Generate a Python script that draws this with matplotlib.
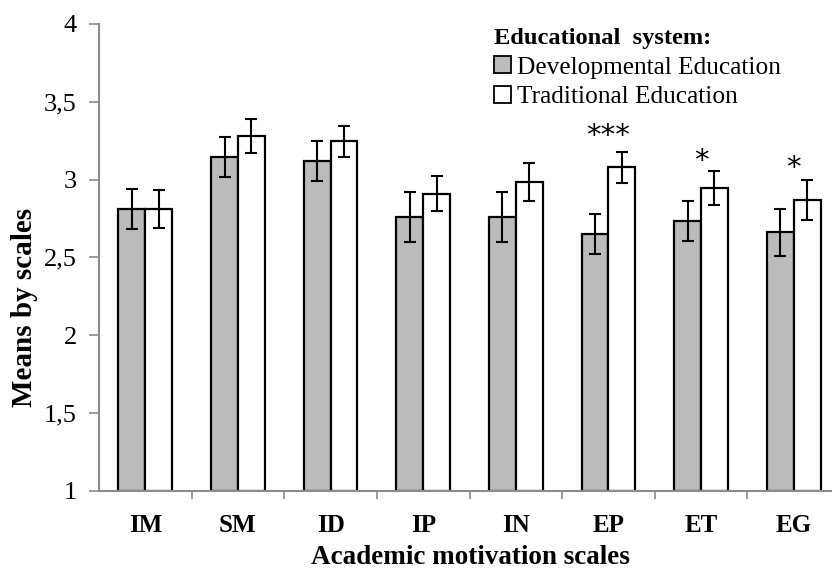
import numpy as np
import matplotlib
matplotlib.use("Agg")
import matplotlib.pyplot as plt
from matplotlib.patches import Patch
from matplotlib.ticker import FixedLocator, FuncFormatter

# Academic motivation scales and group means
scales = ["IM", "SM", "ID", "IP", "IN", "EP", "ET", "EG"]
dev_means = [2.81, 3.145, 3.12, 2.76, 2.76, 2.65, 2.735, 2.66]
dev_err = [0.13, 0.13, 0.13, 0.16, 0.16, 0.13, 0.13, 0.15]
trad_means = [2.81, 3.28, 3.245, 2.91, 2.985, 3.08, 2.945, 2.87]
trad_err = [0.12, 0.11, 0.10, 0.115, 0.12, 0.10, 0.11, 0.13]
signif = ["", "", "", "", "", "***", "*", "*"]
signif_y = [0, 0, 0, 0, 0, 3.28, 3.12, 3.075]

series_labels = ["Developmental Education", "Traditional Education"]
legend_title = "Educational  system:"
y_ticks = [1, 1.5, 2, 2.5, 3, 3.5, 4]

plt.rcParams["font.family"] = ["Liberation Serif", "DejaVu Serif"]

fig = plt.figure(figsize=(8.32, 5.72), dpi=100)
ax = fig.add_axes([99 / 832, 1 - 490.7 / 572, 741 / 832, 466.7 / 572])

x = np.arange(len(scales))
w = 0.29
gray_fill = "#BBBBBB"
spine_gray = "#8C8C8C"

err_kw = dict(ecolor="black", elinewidth=1.5, capsize=4, capthick=1.5)
ax.bar(x - w / 2, np.array(dev_means) - 1, w, bottom=1, color=gray_fill,
       edgecolor="black", linewidth=1.6, yerr=dev_err, error_kw=err_kw,
       label=series_labels[0], zorder=2)
ax.bar(x + w / 2, np.array(trad_means) - 1, w, bottom=1, color="white",
       edgecolor="black", linewidth=1.6, yerr=trad_err, error_kw=err_kw,
       label=series_labels[1], zorder=2)

for xi, s, sy in zip(x, signif, signif_y):
    if s:
        ax.text(xi, sy, s, ha="center", va="center", fontsize=21,
                family=["DejaVu Sans"])

ax.set_xlim(-0.5, len(scales) - 0.5)
ax.set_ylim(1, 4)

ax.yaxis.set_major_locator(FixedLocator(y_ticks))
ax.yaxis.set_major_formatter(FuncFormatter(lambda v, p: f"{v:g}".replace(".", ",")))
ax.tick_params(axis="y", direction="out", length=7, width=1.2, color=spine_gray,
               labelsize=19, pad=9)

ax.set_xticks(x)
ax.set_xticklabels(scales, fontweight="bold", fontsize=18)
ax.set_xticks(np.arange(0.5, len(scales) - 0.5, 1), minor=True)
ax.tick_params(axis="x", which="major", length=0, pad=17)
ax.tick_params(axis="x", which="minor", direction="out", length=6, width=1.2,
               color=spine_gray)

for side in ("top", "right"):
    ax.spines[side].set_visible(False)
for side in ("left", "bottom"):
    ax.spines[side].set_color(spine_gray)
    ax.spines[side].set_linewidth(1.5)

ax.set_xlabel("Academic motivation scales", fontsize=19.5, fontweight="bold")
ax.xaxis.set_label_coords((470 - 99) / 741, -(545 - 490.7) / 466.7)
ax.set_ylabel("Means by scales", fontsize=21, fontweight="bold")
ax.yaxis.set_label_coords(-(99 - 38) / 741, (490.7 - 307) / 466.7)

handles = [Patch(facecolor=gray_fill, edgecolor="black", linewidth=1.3),
           Patch(facecolor="white", edgecolor="black", linewidth=1.3)]
leg = ax.legend(handles, series_labels, title=legend_title, loc="upper left",
                bbox_to_anchor=(494 / 832, 1 - 28 / 572),
                bbox_transform=fig.transFigure, frameon=False,
                fontsize=18.3, handlelength=0.65, handleheight=0.65,
                handletextpad=0.25, labelspacing=0.28, borderpad=0,
                borderaxespad=0, alignment="left",
                title_fontproperties={"weight": "bold", "size": 17.6})

fig.savefig("out.png", dpi=100)
